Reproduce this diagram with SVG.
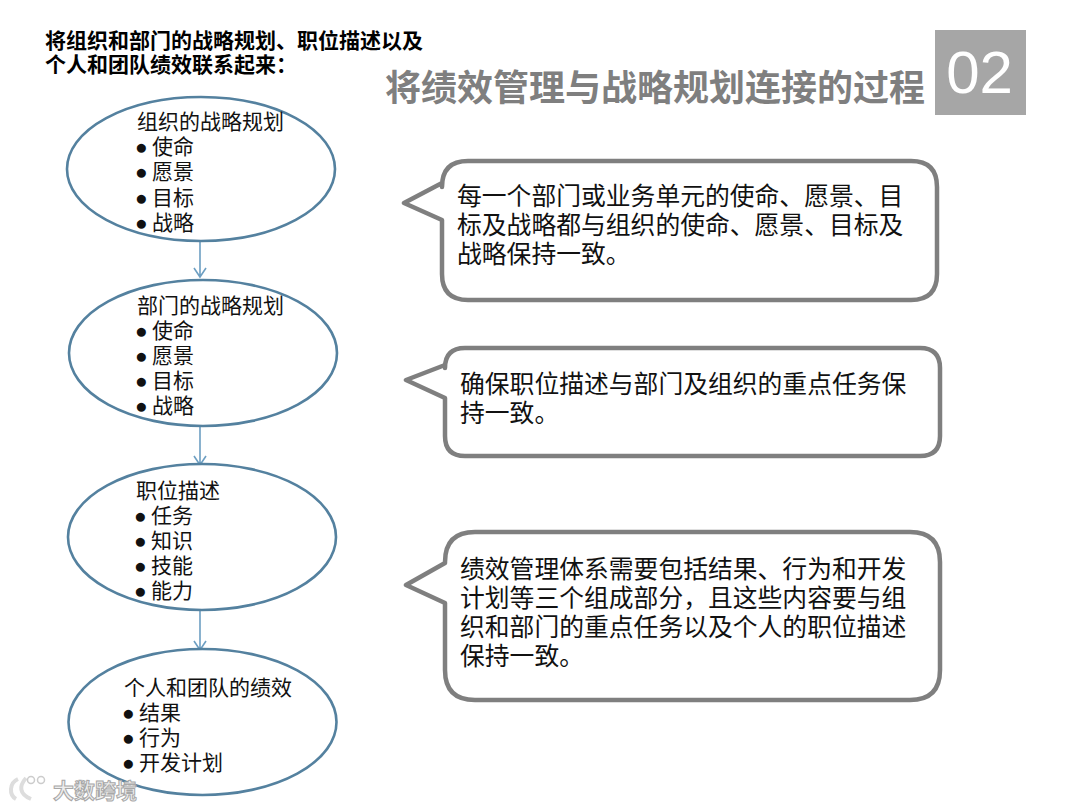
<svg xmlns="http://www.w3.org/2000/svg" width="1080" height="810" viewBox="0 0 1080 810">
<style>
text{font-family:"Liberation Sans","Noto Sans CJK SC",sans-serif;fill:#111}
.h{font-size:21px;font-weight:700;fill:#000}
.t{font-size:36px;font-weight:700;fill:#7f7f7f}
.n{font-size:21px}
.c{font-size:24.8px}
.e{fill:#fff;stroke:#54819f;stroke-width:2.6}
.b{fill:#fff;stroke:#7f7f7f;stroke-width:4.5;stroke-linejoin:round}
.a{fill:none;stroke:#6d9fc2;stroke-width:1.6}
.w{font-size:21px;fill:#eee;stroke:#a8a8a8;stroke-width:1;font-weight:700}
</style>
<rect width="1080" height="810" fill="#fff"/>
<g id="header">
<text class="h" x="45" y="48">将组织和部门的战略规划、职位描述以及</text>
<text class="h" x="45" y="72">个人和团队绩效联系起来：</text>
</g>
<g id="title">
<text class="t" x="385" y="101">将绩效管理与战略规划连接的过程</text>
<rect x="935" y="30" width="91" height="85" fill="#a6a6a6"/>
<text x="979.500" y="93" font-size="60" text-anchor="middle" style="fill:#fff">02</text>
</g>
<g id="connectors">
<path class="a" d="M200 238V277M194 268L200 277L206 268"/>
<path class="a" d="M200 426V465M194 456L200 465L206 456"/>
<path class="a" d="M200 610V650M194 641L200 650L206 641"/>
</g>
<g id="node-org">
<ellipse class="e" cx="201" cy="169" rx="134" ry="72"/>
<text class="n" x="137" y="129">组织的战略规划</text>
<text class="n" y="154"><tspan x="135">●</tspan><tspan x="152">使命</tspan></text>
<text class="n" y="179"><tspan x="135">●</tspan><tspan x="152">愿景</tspan></text>
<text class="n" y="205"><tspan x="135">●</tspan><tspan x="152">目标</tspan></text>
<text class="n" y="230"><tspan x="135">●</tspan><tspan x="152">战略</tspan></text>
</g>
<g id="node-dept">
<ellipse class="e" cx="203" cy="353" rx="134" ry="73"/>
<text class="n" x="137" y="313">部门的战略规划</text>
<text class="n" y="338"><tspan x="135">●</tspan><tspan x="152">使命</tspan></text>
<text class="n" y="363"><tspan x="135">●</tspan><tspan x="152">愿景</tspan></text>
<text class="n" y="388"><tspan x="135">●</tspan><tspan x="152">目标</tspan></text>
<text class="n" y="413"><tspan x="135">●</tspan><tspan x="152">战略</tspan></text>
</g>
<g id="node-job">
<ellipse class="e" cx="202" cy="537" rx="134" ry="73"/>
<text class="n" x="136" y="498">职位描述</text>
<text class="n" y="523"><tspan x="134">●</tspan><tspan x="151">任务</tspan></text>
<text class="n" y="548"><tspan x="134">●</tspan><tspan x="151">知识</tspan></text>
<text class="n" y="573"><tspan x="134">●</tspan><tspan x="151">技能</tspan></text>
<text class="n" y="598"><tspan x="134">●</tspan><tspan x="151">能力</tspan></text>
</g>
<g id="node-perf">
<ellipse class="e" cx="202.500" cy="722" rx="134" ry="73"/>
<text class="n" x="124" y="695">个人和团队的绩效</text>
<text class="n" y="720"><tspan x="122">●</tspan><tspan x="139">结果</tspan></text>
<text class="n" y="745"><tspan x="122">●</tspan><tspan x="139">行为</tspan></text>
<text class="n" y="770"><tspan x="122">●</tspan><tspan x="139">开发计划</tspan></text>
</g>
<g id="callout-1">
<path class="b" d="M468 161H911Q937 161 937 187V274Q937 300 911 300H468Q442 300 442 274V220L404 203L442 183V187Q442 161 468 161Z"/>
<text class="c" x="457" y="205">每一个部门或业务单元的使命、愿景、目</text>
<text class="c" x="457" y="234">标及战略都与组织的使命、愿景、目标及</text>
<text class="c" x="457" y="263">战略保持一致。</text>
</g>
<g id="callout-2">
<path class="b" d="M465 348H920Q940 348 940 368V436Q940 456 920 456H465Q445 456 445 436V398L406 380L445 365V368Q445 348 465 348Z"/>
<text class="c" x="460" y="393">确保职位描述与部门及组织的重点任务保</text>
<text class="c" x="460" y="422">持一致。</text>
</g>
<g id="callout-3">
<path class="b" d="M475 532H910Q940 532 940 562V670Q940 700 910 700H475Q445 700 445 670V603L406 585L445 563V562Q445 532 475 532Z"/>
<text class="c" x="460" y="578">绩效管理体系需要包括结果、行为和开发</text>
<text class="c" x="460" y="607">计划等三个组成部分，且这些内容要与组</text>
<text class="c" x="460" y="636">织和部门的重点任务以及个人的职位描述</text>
<text class="c" x="460" y="665">保持一致。</text>
</g>
<g id="watermark">
<path d="M18 779C9 783 9 795 16 799M26 778C19 786 19 794 31 799" fill="none" stroke="#ddd" stroke-width="4"/>
<circle cx="31" cy="780" r="3.500" fill="none" stroke="#ccc" stroke-width="1.500"/>
<circle cx="41" cy="780" r="3.500" fill="none" stroke="#ccc" stroke-width="1.500"/>
<text class="w" x="53" y="798">大数跨境</text>
</g>
</svg>
